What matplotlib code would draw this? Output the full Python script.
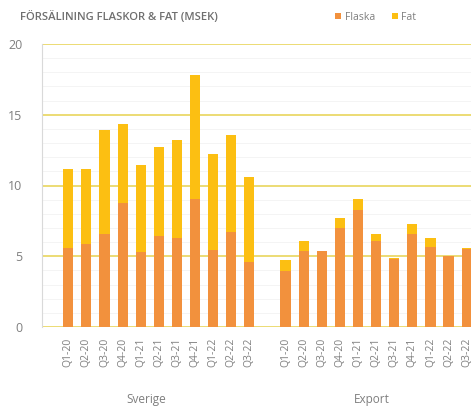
import matplotlib.pyplot as plt
import numpy as np

plt.rcParams['font.family'] = ['Open Sans', 'DejaVu Sans']

quarters = ['Q1-20', 'Q2-20', 'Q3-20', 'Q4-20', 'Q1-21', 'Q2-21', 'Q3-21',
            'Q4-21', 'Q1-22', 'Q2-22', 'Q3-22']
groups = ['Sverige', 'Export']

sverige_flaska = [5.6, 5.9, 6.6, 8.75, 5.3, 6.45, 6.3, 9.05, 5.45, 6.7, 4.6]
sverige_fat = [5.6, 5.3, 7.35, 5.6, 6.15, 6.3, 6.95, 8.75, 6.75, 6.85, 6.0]
export_flaska = [3.95, 5.4, 5.35, 7.0, 8.3, 6.05, 4.8, 6.6, 5.65, 5.0, 5.5]
export_fat = [0.8, 0.7, 0.05, 0.7, 0.75, 0.55, 0.05, 0.65, 0.65, 0.05, 0.05]

c_flaska = '#F2913D'
c_fat = '#FCBF12'
c_grid = '#E9D65C'
c_text = '#7F7F7F'

fig = plt.figure(figsize=(4.71, 4.07), dpi=100)
ax = fig.add_axes([42 / 471, 1 - 327 / 407, 1 - 42 / 471 + 0.01, (327 - 44) / 407])

n = len(quarters)
x_sv = np.arange(n)
x_ex = np.arange(n) + n + 1
w = 0.56

ax.bar(x_sv, sverige_flaska, w, color=c_flaska, label='Flaska', zorder=3)
ax.bar(x_sv, sverige_fat, w, bottom=sverige_flaska, color=c_fat, label='Fat', zorder=3)
ax.bar(x_ex, export_flaska, w, color=c_flaska, zorder=3)
ax.bar(x_ex, export_fat, w, bottom=export_flaska, color=c_fat, zorder=3)

ax.set_ylim(0, 20)
ax.set_xlim(-1.45, 22.5)
ax.set_yticks([0, 5, 10, 15, 20])
ax.yaxis.grid(True, color=c_grid, linewidth=1.2, zorder=1)
ax.set_yticks(np.arange(0, 20, 1), minor=True)
ax.yaxis.grid(True, which='minor', color='#F3F3F3', linewidth=0.6, zorder=0)
ax.tick_params(axis='y', which='both', length=0)
ax.tick_params(axis='y', labelsize=9, labelcolor=c_text, pad=14)

ax.set_xticks(list(x_sv) + list(x_ex))
ax.set_xticklabels(quarters + quarters, rotation=90, fontsize=7.5, color=c_text)
ax.tick_params(axis='x', length=0, pad=8)

for s in ['top', 'right', 'bottom']:
    ax.spines[s].set_visible(False)
ax.spines['left'].set_color('#D9D9D9')
ax.spines['left'].set_linewidth(0.8)

fig.text(146 / 471, 1 - 399 / 407, groups[0], ha='center', va='center',
         fontsize=8.5, color=c_text)
fig.text(372 / 471, 1 - 399 / 407, groups[1], ha='center', va='center',
         fontsize=8.5, color=c_text)

fig.text(20 / 471, 1 - 17 / 407, 'FÖRSÄLINING FLASKOR & FAT (MSEK)', ha='left',
         va='center', fontsize=8.1, color='#6F6F6F', fontweight='semibold')

leg = ax.legend(loc='center left', bbox_to_anchor=(330 / 471, 1 - 17 / 407),
                bbox_transform=fig.transFigure, ncol=2, frameon=False,
                fontsize=7.5, handlelength=0.6, handleheight=0.6,
                handletextpad=0.3, columnspacing=1.6, borderpad=0)
for t in leg.get_texts():
    t.set_color(c_text)

fig.savefig('out.png', dpi=100)
